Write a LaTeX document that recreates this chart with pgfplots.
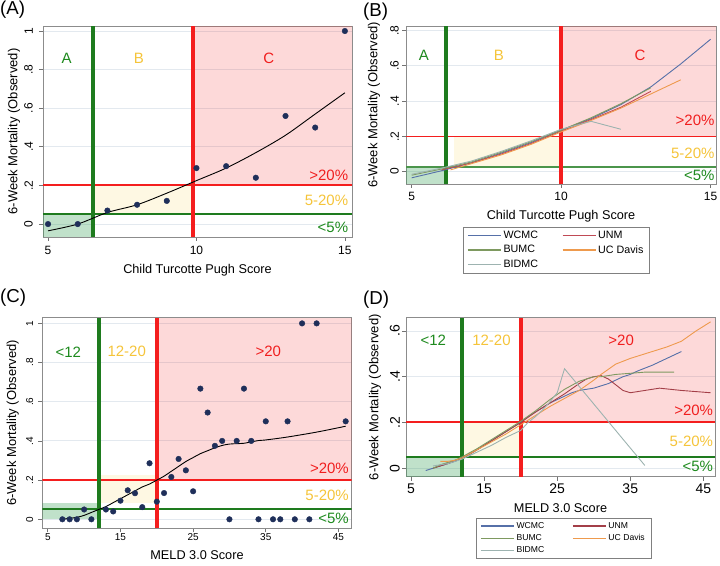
\documentclass[border=0pt]{standalone}
\usepackage{fontspec}
\setmainfont{Liberation Sans}
\usepackage{pgfplots}
\pgfplotsset{compat=1.18}

\definecolor{gline}{HTML}{1E7B1E}
\definecolor{rline}{HTML}{F41E1E}
\definecolor{ytext}{HTML}{F5C43A}
\definecolor{gtext}{HTML}{1E8A1E}
\definecolor{rtext}{HTML}{F01E1E}
\definecolor{gridc}{HTML}{E3E9EF}
\definecolor{dotc}{HTML}{1F2F5A}
\definecolor{gshade}{HTML}{2E9B4E}
\definecolor{yshade}{HTML}{F5D040}
\definecolor{cwcmc}{HTML}{5670A8}
\definecolor{cunm}{HTML}{C04A55}
\definecolor{cbumc}{HTML}{7E9960}
\definecolor{cucd}{HTML}{EE9A4D}
\definecolor{cbidmc}{HTML}{9DB3B0}

\newcommand{\fs}[1]{\fontsize{#1}{#1}\selectfont}

\tikzset{
  gsh/.style={fill=gshade, fill opacity=0.3, draw=none},
  ysh/.style={fill=yshade, fill opacity=0.15, draw=none},
  rsh/.style={fill=rline, fill opacity=0.17, draw=none},
}
\pgfplotsset{
  stata/.style={
    scale only axis, anchor=south west, clip=true,
    axis line style={black!45, line width=0.7pt},
    tick align=outside, xtick pos=bottom, ytick pos=left,
    major tick length=4pt, tick style={black!55, line width=0.7pt},
    ymajorgrids, grid style={gridc, line width=0.9pt},
    yticklabel style={rotate=90},
    every axis x label/.style={at={(axis description cs:0.5,0)}, anchor=center},
    every axis y label/.style={rotate=90, anchor=center},
    ylabel={6-Week Mortality (Observed)},
    legend image code/.code={\draw[##1, line width=1.2pt] (0pt,0pt) -- (33pt,0pt);},
  },
  site/.style={line width=0.9pt, no markers},
}

\begin{document}
\begin{tikzpicture}
\path[use as bounding box] (0pt,0pt) rectangle (720pt,565pt);

\node[anchor=west, inner sep=0pt, font=\fs{18.7}] at (0pt,555pt) {(A)};
\node[anchor=west, inner sep=0pt, font=\fs{18.7}] at (363pt,553pt) {(B)};
\node[anchor=west, inner sep=0pt, font=\fs{18.7}] at (0pt,267pt) {(C)};
\node[anchor=west, inner sep=0pt, font=\fs{18.7}] at (363pt,265pt) {(D)};

% ---------------- (A)
\begin{axis}[stata,
  at={(43pt,328pt)}, width=309pt, height=211pt,
  xmin=4.83, xmax=15.24, ymin=-0.067, ymax=1.026,
  xtick={5,10,15}, xticklabels={5,10,15},
  ytick={0,0.2,0.4,0.6,0.8,1}, yticklabels={0,.2,.4,.6,.8,1},
  ticklabel style={font=\fs{12}},
  xticklabel style={inner sep=5pt}, yticklabel style={inner sep=6pt},
  xlabel={Child Turcotte Pugh Score},
  x label style={font=\fs{12.7}, yshift=-33.7pt},
  y label style={font=\fs{13}, at={([xshift=-29pt]axis description cs:0,0.5)}},
]
\addplot[only marks, mark=*, mark size=2.8pt, color=dotc] coordinates {
  (5,0) (6,0) (7,0.07) (8,0.1) (9,0.12) (10,0.29) (11,0.3) (12,0.24) (13,0.56) (14,0.5) (15,1.0)};
\fill[gsh] (axis cs:4.83,-0.067) rectangle (axis cs:6.5,0.05);
\fill[ysh] (axis cs:6.5,0.05) rectangle (axis cs:9.9,0.2);
\fill[rsh] (axis cs:9.9,0.2) rectangle (axis cs:15.24,1.026);
\draw[rline, line width=2pt] (axis cs:4.83,0.2) -- (axis cs:15.24,0.2);
\draw[gline, line width=2pt] (axis cs:4.83,0.05) -- (axis cs:15.24,0.05);
\draw[gline, line width=4pt] (axis cs:6.5,-0.067) -- (axis cs:6.5,1.026);
\draw[rline, line width=4pt] (axis cs:9.9,-0.067) -- (axis cs:9.9,1.026);
\addplot[black, line width=0.9pt, smooth] coordinates {
  (5,-0.035) (6,0.0) (7,0.06) (8,0.1) (9,0.16) (10,0.225) (11,0.29) (12,0.37) (13,0.46) (14,0.57) (15,0.68)};
\node[gtext, font=\fs{15}] at (axis cs:5.63,0.858) {A};
\node[ytext, font=\fs{15}] at (axis cs:8.06,0.858) {B};
\node[rtext, font=\fs{15}] at (axis cs:12.44,0.858) {C};
\node[rtext, font=\fs{15}, anchor=east, inner sep=1pt] at (axis cs:15.15,0.254) {>20\%};
\node[ytext, font=\fs{15}, anchor=east, inner sep=1pt] at (axis cs:15.15,0.124) {5-20\%};
\node[gtext, font=\fs{15}, anchor=east, inner sep=1pt] at (axis cs:15.15,-0.019) {<5\%};
\end{axis}

% ---------------- (B)
\begin{axis}[stata,
  at={(406pt,381pt)}, width=310pt, height=158pt,
  xmin=4.81, xmax=15.18, ymin=-0.07, ymax=0.825,
  xtick={5,10,15}, xticklabels={5,10,15},
  ytick={0,0.2,0.4,0.6,0.8}, yticklabels={0,.2,.4,.6,.8},
  ticklabel style={font=\fs{12}},
  xticklabel style={inner sep=4pt}, yticklabel style={inner sep=3pt},
  xlabel={Child Turcotte Pugh Score},
  x label style={font=\fs{12.7}, yshift=-32.7pt},
  y label style={font=\fs{13}, at={([xshift=-32pt]axis description cs:0,0.5)}},
  legend columns=2,
  legend style={at={(0.485,-0.27)}, anchor=north, draw=black!50, font=\fs{10.7},
    inner xsep=4pt, inner ysep=2pt, row sep=1.5pt, cells={anchor=west},
    /tikz/every even column/.append style={column sep=22pt}},
]
\fill[gsh] (axis cs:4.81,-0.07) rectangle (axis cs:6.14,0.025);
\fill[ysh] (axis cs:6.4,0.025) rectangle (axis cs:10,0.2);
\fill[rsh] (axis cs:10,0.2) rectangle (axis cs:15.18,0.825);
\draw[rline, line width=1.5pt] (axis cs:4.81,0.2) -- (axis cs:15.18,0.2);
\draw[gline!80, line width=1.5pt] (axis cs:4.81,0.025) -- (axis cs:15.18,0.025);
\draw[gline, line width=4pt] (axis cs:6.14,-0.07) -- (axis cs:6.14,0.825);
\draw[rline, line width=4pt] (axis cs:10,-0.07) -- (axis cs:10,0.825);
\addplot[site, color=cwcmc] coordinates {
  (5,-0.035) (6,0.005) (7,0.05) (8,0.105) (9,0.165) (10,0.235) (11,0.3) (12,0.38) (13,0.48) (14,0.61) (15,0.75)};
\addlegendentry{WCMC}
\addplot[site, color=cunm] coordinates {
  (6,0.01) (7,0.05) (8,0.1) (9,0.16) (10,0.23) (11,0.295) (12,0.365) (13,0.455)};
\addlegendentry{UNM}
\addplot[site, color=cbumc] coordinates {
  (5,-0.02) (6,0.015) (7,0.055) (8,0.11) (9,0.17) (10,0.235) (11,0.305) (12,0.385) (13,0.475)};
\addlegendentry{BUMC}
\addplot[site, color=cucd] coordinates {
  (6.3,0.01) (7,0.045) (8,0.095) (9,0.155) (10,0.225) (11,0.29) (12,0.36) (13,0.44) (14,0.52)};
\addlegendentry{UC Davis}
\addplot[site, color=cbidmc] coordinates {
  (5,-0.015) (6,0.02) (7,0.06) (8,0.115) (9,0.175) (10,0.24) (11,0.285) (12,0.24)};
\addlegendentry{BIDMC}
\node[gtext, font=\fs{15}] at (axis cs:5.41,0.66) {A};
\node[ytext, font=\fs{15}] at (axis cs:7.92,0.66) {B};
\node[rtext, font=\fs{15}] at (axis cs:12.64,0.66) {C};
\node[rtext, font=\fs{15}, anchor=east, inner sep=1pt] at (axis cs:15.17,0.29) {>20\%};
\node[ytext, font=\fs{15}, anchor=east, inner sep=1pt] at (axis cs:15.17,0.104) {5-20\%};
\node[gtext, font=\fs{15}, anchor=east, inner sep=1pt] at (axis cs:15.17,-0.019) {<5\%};
\end{axis}

% ---------------- (C)
\begin{axis}[stata,
  at={(42.3pt,36.7pt)}, width=309.4pt, height=210.6pt,
  xmin=4.24, xmax=46.83, ymin=-0.046, ymax=1.029,
  xtick={5,15,25,35,45}, xticklabels={5,15,25,35,45},
  ytick={0,0.2,0.4,0.6,0.8,1}, yticklabels={0,.2,.4,.6,.8,1},
  ticklabel style={font=\fs{10}},
  xticklabel style={inner sep=1pt}, yticklabel style={inner sep=5pt},
  xlabel={MELD 3.0 Score},
  x label style={font=\fs{12.7}, yshift=-26.7pt},
  y label style={font=\fs{13}, at={([xshift=-29.6pt]axis description cs:0,0.5)}},
]
\addplot[only marks, mark=*, mark size=2.8pt, color=dotc] coordinates {
  (7,0) (8,0) (9,0) (10,0.05) (11,0) (13,0.05) (14,0.04) (15,0.095) (16,0.148) (17,0.133)
  (18,0.062) (19,0.286) (20,0.09) (21,0.134) (22,0.216) (23,0.308) (24,0.25) (25,0.143)
  (26,0.667) (27,0.545) (28,0.375) (29,0.4) (30,0) (31,0.4) (32,0.667) (33,0.4) (34,0)
  (35,0.5) (36,0) (37,0) (38,0.5) (39,0) (40,1) (41,0) (42,1) (46,0.5)};
\fill[gsh] (axis cs:4.24,0.0) rectangle (axis cs:12,0.083);
\fill[ysh] (axis cs:12,0.083) rectangle (axis cs:20,0.225);
\fill[rsh] (axis cs:20,0.205) rectangle (axis cs:46.83,1.029);
\draw[rline, line width=1.5pt] (axis cs:4.24,0.2) -- (axis cs:46.83,0.2);
\draw[gline, line width=2pt] (axis cs:4.24,0.05) -- (axis cs:46.83,0.05);
\draw[gline, line width=4pt] (axis cs:12,-0.046) -- (axis cs:12,1.029);
\draw[rline, line width=4pt] (axis cs:20,-0.046) -- (axis cs:20,1.029);
\addplot[black, line width=0.9pt, smooth] coordinates {
  (7,0) (8,0.005) (9,0.01) (10,0.02) (11,0.035) (12,0.05) (13,0.065) (14,0.085) (15,0.105)
  (16,0.125) (17,0.145) (18,0.165) (19,0.18) (20,0.2) (21,0.22) (22,0.245) (23,0.27)
  (24,0.295) (25,0.315) (26,0.335) (27,0.35) (28,0.365) (29,0.377) (30,0.384) (31,0.386)
  (32,0.388) (33,0.395) (34,0.402) (35,0.405) (38,0.42) (42,0.445) (46,0.475)};
\node[gtext, font=\fs{15}] at (axis cs:7.82,0.855) {<12};
\node[ytext, font=\fs{15}] at (axis cs:15.86,0.855) {12-20};
\node[rtext, font=\fs{15}] at (axis cs:35.35,0.855) {>20};
\node[rtext, font=\fs{15}, anchor=east, inner sep=1pt] at (axis cs:46.6,0.26) {>20\%};
\node[ytext, font=\fs{15}, anchor=east, inner sep=1pt] at (axis cs:46.6,0.124) {5-20\%};
\node[gtext, font=\fs{15}, anchor=east, inner sep=1pt] at (axis cs:46.6,0.005) {<5\%};
\end{axis}

% ---------------- (D)
\begin{axis}[stata,
  at={(406pt,88.3pt)}, width=309pt, height=159pt,
  xmin=4.3, xmax=46.6, ymin=-0.037, ymax=0.658,
  xtick={5,15,25,35,45}, xticklabels={5,15,25,35,45},
  ytick={0,0.2,0.4,0.6}, yticklabels={0,.2,.4,.6},
  ticklabel style={font=\fs{14}},
  xticklabel style={inner sep=2.5pt}, yticklabel style={inner sep=2pt},
  xlabel={MELD 3.0 Score},
  x label style={font=\fs{12.7}, yshift=-31.3pt},
  y label style={font=\fs{13}, at={([xshift=-31pt]axis description cs:0,0.5)}},
  legend columns=2,
  legend style={at={(0.51,-0.26)}, anchor=north, draw=black!50, font=\fs{8.6},
    inner xsep=4pt, inner ysep=2pt, row sep=0.5pt, cells={anchor=west},
    /tikz/every even column/.append style={column sep=26pt}},
]
\fill[gsh] (axis cs:4.3,-0.037) rectangle (axis cs:12,0.05);
\fill[ysh] (axis cs:12,0.05) rectangle (axis cs:20,0.2);
\fill[rsh] (axis cs:20,0.2) rectangle (axis cs:46.6,0.658);
\draw[rline, line width=2pt] (axis cs:4.3,0.2) -- (axis cs:46.6,0.2);
\draw[gline, line width=2pt] (axis cs:4.3,0.05) -- (axis cs:46.6,0.05);
\draw[gline, line width=4pt] (axis cs:12,-0.037) -- (axis cs:12,0.658);
\draw[rline, line width=4pt] (axis cs:20,-0.037) -- (axis cs:20,0.658);
\addplot[site, color=cwcmc] coordinates {
  (7,-0.01) (8,0.0) (9,0.01) (10,0.02) (11,0.03) (12,0.045) (13,0.06) (14,0.08) (15,0.1)
  (16,0.12) (17,0.14) (18,0.16) (19,0.18) (20,0.2) (21,0.225) (22,0.245) (23,0.265)
  (24,0.285) (25,0.3) (26,0.315) (27,0.33) (28,0.34) (29,0.345) (30,0.35) (31,0.36)
  (32,0.37) (33,0.385) (34,0.4) (35,0.41) (36,0.425) (38,0.45) (40,0.48) (42,0.51)};
\addlegendentry{WCMC}
\addplot[site, color=cunm!85!black] coordinates {
  (8,0.0) (10,0.02) (12,0.045) (14,0.08) (16,0.12) (18,0.16) (20,0.2) (22,0.245) (24,0.285)
  (26,0.325) (28,0.37) (29,0.39) (30,0.4) (31,0.405) (32,0.39) (33,0.365) (34,0.34)
  (35,0.33) (37,0.34) (39,0.35) (42,0.34) (46,0.33)};
\addlegendentry{UNM}
\addplot[site, color=cbumc] coordinates {
  (8,0.0) (9,0.015) (10,0.025) (11,0.035) (12,0.05) (14,0.085) (16,0.125) (18,0.165)
  (20,0.205) (22,0.25) (24,0.3) (26,0.345) (28,0.38) (29,0.39) (30,0.4) (31,0.4) (33,0.41)
  (35,0.415) (37,0.42) (39,0.42) (41,0.42)};
\addlegendentry{BUMC}
\addplot[site, color=cucd] coordinates {
  (9,0.03) (10,0.03) (11,0.035) (12,0.045) (14,0.08) (16,0.115) (18,0.15) (20,0.19)
  (22,0.23) (24,0.27) (26,0.305) (28,0.34) (30,0.385) (31,0.41) (33,0.455) (35,0.48)
  (38,0.51) (40,0.53) (42,0.555) (44,0.6) (46,0.64)};
\addlegendentry{UC Davis}
\addplot[site, color=cbidmc] coordinates {
  (8,0.01) (10,0.02) (12,0.04) (14,0.07) (16,0.1) (18,0.135) (20,0.165) (21,0.2) (22,0.225)
  (23,0.255) (24,0.29) (25,0.33) (26,0.435) (30,0.281) (34,0.127) (37,0.012)};
\addlegendentry{BIDMC}
\node[gtext, font=\fs{15}] at (axis cs:8.03,0.56) {<12};
\node[ytext, font=\fs{15}] at (axis cs:16,0.56) {12-20};
\node[rtext, font=\fs{15}] at (axis cs:33.75,0.56) {>20};
\node[rtext, font=\fs{15}, anchor=east, inner sep=1pt] at (axis cs:46.5,0.255) {>20\%};
\node[ytext, font=\fs{15}, anchor=east, inner sep=1pt] at (axis cs:46.5,0.116) {5-20\%};
\node[gtext, font=\fs{15}, anchor=east, inner sep=1pt] at (axis cs:46.5,0.007) {<5\%};
\end{axis}
\end{tikzpicture}
\end{document}
